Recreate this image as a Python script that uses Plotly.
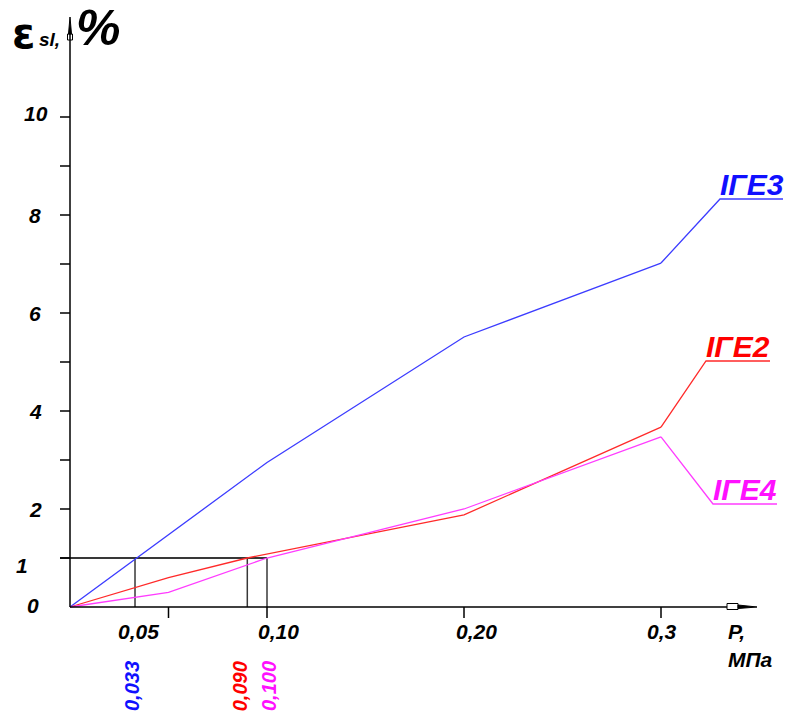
import plotly.graph_objects as go

# ---------------- data ----------------
P_IGE3 = [0.0, 0.10, 0.20, 0.30]
E_IGE3 = [0.0, 2.95, 5.51, 7.02]
P_IGE2 = [0.0, 0.05, 0.09, 0.20, 0.30]
E_IGE2 = [0.0, 0.60, 1.00, 1.88, 3.67]
P_IGE4 = [0.0, 0.05, 0.10, 0.20, 0.30]
E_IGE4 = [0.0, 0.30, 1.00, 2.00, 3.47]
SERIES_NAMES = ["ІГЕ3", "ІГЕ2", "ІГЕ4"]

X_TICKS = [0.05, 0.10, 0.20, 0.30]
X_TICK_LABELS = ["0,05", "0,10", "0,20", "0,3"]
Y_TICKS = [1, 2, 3, 4, 5, 6, 7, 8, 9, 10]
Y_LABEL_VALS = [0, 1, 2, 4, 6, 8, 10]
Y_LABELS = ["0", "1", "2", "4", "6", "8", "10"]

THRESH_E = 1.0
THRESH_P = [0.033, 0.090, 0.100]
THRESH_LABELS = ["0,033", "0,090", "0,100"]

# ---------------- layout / style ----------------
W, H = 786, 720
X0PX, XS = 70, 1970.0   # pixel of P=0, pixels per MPa
Y0PX, YS = 607, 49.0    # pixel of e=0, pixels per %


def dx(px):
    return (px - X0PX) / XS


def dy(py):
    return (Y0PX - py) / YS


COLORS = ["#3c3cff", "#ff2a2a", "#ff3cff"]
TEXT_COLORS = ["#1010ff", "#ff0000", "#ff10ff"]
# callout anchors (leader end) and underline ends, in pixels
CALLOUT_START_PX = [(720, 199), (706, 361), (713, 504)]
CALLOUT_END_PX = [783, 770, 777]
THRESH_COLORS = TEXT_COLORS
THRESH_XSHIFT = [-3, -7, 2]
XLABEL_XSHIFT = [-30, 11, 12, 1]
YLABEL_XSHIFT = [-37, -48, -35, -35, -35, -35, -34]
YLABEL_YSHIFT = [2, -7, 0, 0, 0, 0, 4]

FONT = "Liberation Sans, Arial, sans-serif"

fig = go.Figure()

series = [(P_IGE3, E_IGE3), (P_IGE2, E_IGE2), (P_IGE4, E_IGE4)]
for i, (px_, ey) in enumerate(series):
    fig.add_trace(go.Scatter(x=px_, y=ey, mode="lines",
                             line=dict(color=COLORS[i], width=1.3),
                             showlegend=False, hoverinfo="skip"))
    # leader + underline
    sx, sy = CALLOUT_START_PX[i]
    ex = CALLOUT_END_PX[i]
    fig.add_trace(go.Scatter(x=[px_[-1], dx(sx), dx(ex)],
                             y=[ey[-1], dy(sy), dy(sy)], mode="lines",
                             line=dict(color=COLORS[i], width=1.3),
                             showlegend=False, hoverinfo="skip"))
    fig.add_annotation(x=(dx(sx) + dx(ex)) / 2, y=dy(sy), text=SERIES_NAMES[i],
                       showarrow=False, xanchor="center", yanchor="bottom", yshift=-4,
                       font=dict(family=FONT, size=30, color=TEXT_COLORS[i],
                                 weight="bold", style="italic"))

# threshold lines
REF = "#383838"
fig.add_shape(type="line", x0=dx(60), x1=THRESH_P[-1], y0=THRESH_E, y1=THRESH_E,
              line=dict(color=REF, width=1.8), layer="below")
for i, p in enumerate(THRESH_P):
    fig.add_shape(type="line", x0=p, x1=p, y0=0, y1=THRESH_E,
                  line=dict(color=REF, width=1.5), layer="below")
    fig.add_annotation(x=p, y=0, text=THRESH_LABELS[i], textangle=-90, showarrow=False,
                       xanchor="center", yanchor="middle", xshift=THRESH_XSHIFT[i], yshift=-79,
                       font=dict(family=FONT, size=20, color=THRESH_COLORS[i],
                                 weight="bold", style="italic"))

# axes
AX = "#000000"
fig.add_shape(type="line", x0=0, x1=0, y0=0, y1=dy(34), line=dict(color=AX, width=1.5))
fig.add_shape(type="line", x0=0, x1=dx(727), y0=0, y1=0, line=dict(color=AX, width=1.5))
# y arrow: open box + spike
fig.add_shape(type="rect", x0=dx(67.5), x1=dx(72.5), y0=dy(40), y1=dy(34),
              line=dict(color=AX, width=1))
fig.add_shape(type="path",
              path=f"M {dx(68.5)} {dy(34)} L {dx(70)} {dy(17)} L {dx(71.5)} {dy(34)} Z",
              fillcolor=AX, line=dict(color=AX, width=1))
# x arrow: open box + spike
fig.add_shape(type="rect", x0=dx(727), x1=dx(738), y0=dy(609.5), y1=dy(603.5),
              line=dict(color=AX, width=1))
fig.add_shape(type="path",
              path=f"M {dx(738)} {dy(605)} L {dx(757)} {dy(607)} L {dx(738)} {dy(608.5)} Z",
              fillcolor=AX, line=dict(color=AX, width=1))

# ticks
for t in Y_TICKS:
    fig.add_shape(type="line", x0=dx(60), x1=0, y0=t, y1=t, line=dict(color=AX, width=1.5))
for t in X_TICKS:
    fig.add_shape(type="line", x0=t, x1=t, y0=0, y1=dy(618), line=dict(color=AX, width=1.5))

TICKFONT = dict(family=FONT, size=21, color="#000000", weight="bold", style="italic")
for i, (v, lab) in enumerate(zip(X_TICKS, X_TICK_LABELS)):
    fig.add_annotation(x=v, y=0, text=lab, showarrow=False, xanchor="center",
                       yanchor="middle", xshift=XLABEL_XSHIFT[i], yshift=-24, font=TICKFONT)
for i, (v, lab) in enumerate(zip(Y_LABEL_VALS, Y_LABELS)):
    fig.add_annotation(x=0, y=v, text=lab, showarrow=False, xanchor="center",
                       yanchor="middle", xshift=YLABEL_XSHIFT[i], yshift=YLABEL_YSHIFT[i],
                       font=TICKFONT)

# axis titles
fig.add_annotation(x=dx(736), y=dy(631), text="P,", showarrow=False, xanchor="center",
                   yanchor="middle", font=TICKFONT)
fig.add_annotation(x=dx(750), y=dy(659), text="МПа", showarrow=False, xanchor="center",
                   yanchor="middle", font=TICKFONT)
fig.add_annotation(x=dx(23), y=dy(33), text="ε", showarrow=False, xanchor="center",
                   yanchor="middle",
                   font=dict(family="DejaVu Sans, sans-serif", size=42, color="#000",
                             weight="bold"))
fig.add_annotation(x=dx(49), y=dy(39), text="sl,", showarrow=False, xanchor="center",
                   yanchor="middle",
                   font=dict(family=FONT, size=19, color="#000", weight="bold", style="italic"))
fig.add_annotation(x=dx(98), y=dy(28), text="%", showarrow=False, xanchor="center",
                   yanchor="middle",
                   font=dict(family=FONT, size=50, color="#000", weight="bold", style="italic"))

fig.update_layout(
    width=W, height=H, autosize=False,
    margin=dict(l=0, r=0, t=0, b=0),
    paper_bgcolor="white", plot_bgcolor="white",
    xaxis=dict(range=[dx(0), dx(W)], visible=False, fixedrange=True),
    yaxis=dict(range=[dy(H), dy(0)], visible=False, fixedrange=True),
    showlegend=False,
)

fig.write_html("out.html", config={"displayModeBar": False},
               post_script="document.body.style.margin='0';document.body.style.padding='0';")
